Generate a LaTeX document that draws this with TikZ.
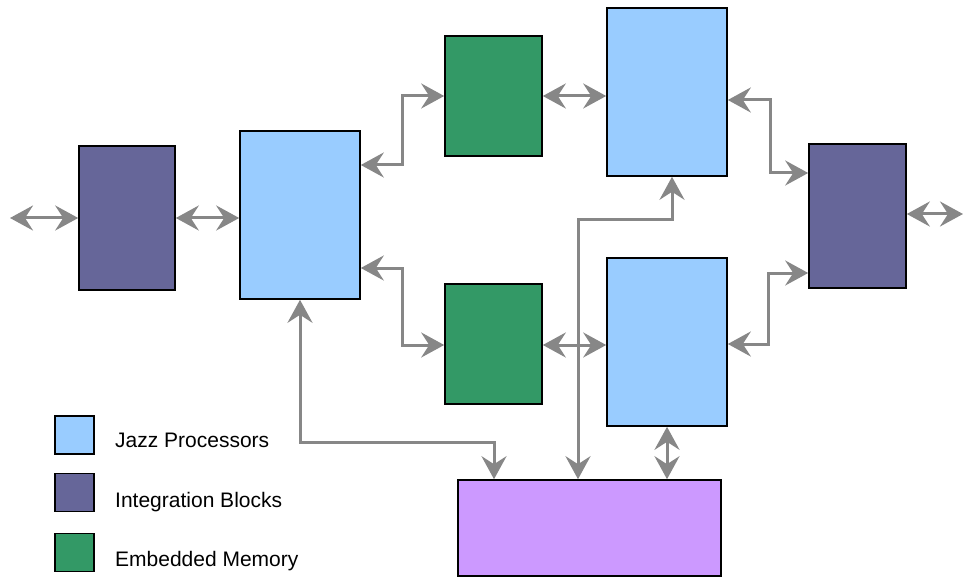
\documentclass[tikz,border=0pt]{standalone}
\usepackage{fontspec}
\setmainfont{Liberation Sans}
\usetikzlibrary{arrows.meta}
\definecolor{jazz}{HTML}{99CCFF}
\definecolor{integ}{HTML}{666699}
\definecolor{emem}{HTML}{339966}
\definecolor{purp}{HTML}{CC99FF}
\definecolor{agray}{HTML}{878787}
\tikzset{
  blk/.style={draw=black, line width=1.6pt, inner sep=0pt, rectangle},
  conn/.style={draw=agray, line width=3pt,
    {Stealth[length=23pt 0 0,width=25pt 0 0,inset=8pt 0]}-{Stealth[length=23pt 0 0,width=25pt 0 0,inset=8pt 0]}},
  lbl/.style={anchor=base west, inner sep=0pt, font=\fontsize{21}{24}\selectfont}
}
\begin{document}
\begin{tikzpicture}[x=1pt,y=-1pt]
\useasboundingbox (0,0) rectangle (963,577);
% blocks
\node[blk, fill=integ, minimum width=96pt, minimum height=144pt] (ibL) at (127,218) {};
\node[blk, fill=jazz, minimum width=120pt, minimum height=168pt] (jpL) at (300,215) {};
\node[blk, fill=emem, minimum width=97pt, minimum height=120pt] (emT) at (493.5,96) {};
\node[blk, fill=emem, minimum width=97pt, minimum height=120pt] (emB) at (493.5,344) {};
\node[blk, fill=jazz, minimum width=120pt, minimum height=168pt] (jpT) at (667,92) {};
\node[blk, fill=jazz, minimum width=120pt, minimum height=168pt] (jpB) at (667,342) {};
\node[blk, fill=integ, minimum width=97pt, minimum height=144pt] (ibR) at (857.5,216) {};
\node[blk, fill=purp, minimum width=263pt, minimum height=96pt] (pur) at (589.5,528) {};
% free ends
\coordinate (inL) at (10,218);
\coordinate (outR) at (963,214);
% connectors
\draw[conn] (inL) -- (ibL.west |- inL);
\draw[conn] (ibL.east) -- (jpL.west |- ibL.east);
\draw[conn] (jpL.east |- 0,165) -- (402,165) |- (emT.west);
\draw[conn] (jpL.east |- 0,268) -- (402,268) |- (emB.west |- 0,345);
\draw[conn] (emT.east) -- (jpT.west |- emT.east);
\draw[conn] (emB.east |- 0,345) -- (jpB.west |- 0,345);
\draw[conn] (jpT.east |- 0,100) -- (770,100) |- (ibR.west |- 0,173);
\draw[conn] (jpB.east |- 0,344) -- (768,344) |- (ibR.west |- 0,273);
\draw[conn] (ibR.east |- outR) -- (outR);
\draw[conn] (jpL.south) -- (300,442) -| (pur.north -| 494,0);
\draw[conn] (pur.north -| 578,0) -- (578,220) -| (jpT.south -| 672,0);
\draw[conn] (jpB.south) -- (pur.north -| jpB.south);
% legend
\node[blk, fill=jazz, minimum width=39pt, minimum height=38pt] (lgJ) at (74.5,435) {};
\node[blk, fill=integ, minimum width=39pt, minimum height=38pt] (lgI) at (74.5,492.5) {};
\node[blk, fill=emem, minimum width=39pt, minimum height=38pt] (lgE) at (74.5,552.5) {};
\node[lbl] (tJ) at (115,447) {Jazz Processors};
\node[lbl] (tI) at (115,507) {Integration Blocks};
\node[lbl] (tE) at (115,566) {Embedded Memory};
\end{tikzpicture}
\end{document}
